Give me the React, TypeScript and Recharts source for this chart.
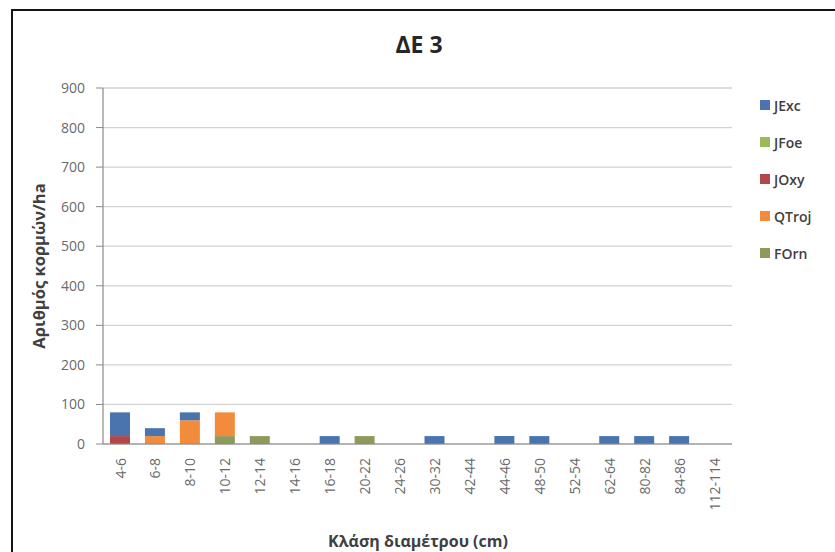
import React from 'react';
import { BarChart, Bar, XAxis, YAxis, CartesianGrid } from 'recharts';

const categories = ['4-6', '6-8', '8-10', '10-12', '12-14', '14-16', '16-18', '20-22', '24-26', '30-32', '42-44', '44-46', '48-50', '52-54', '62-64', '80-82', '84-86', '112-114'];
const jExc = [60, 20, 20, 0, 0, 0, 20, 0, 0, 20, 0, 20, 20, 0, 20, 20, 20, 0];
const jFoe = [0, 0, 0, 0, 0, 0, 0, 0, 0, 0, 0, 0, 0, 0, 0, 0, 0, 0];
const jOxy = [20, 0, 0, 0, 0, 0, 0, 0, 0, 0, 0, 0, 0, 0, 0, 0, 0, 0];
const qTroj = [0, 20, 60, 60, 0, 0, 0, 0, 0, 0, 0, 0, 0, 0, 0, 0, 0, 0];
const fOrn = [0, 0, 0, 20, 20, 0, 0, 20, 0, 0, 0, 0, 0, 0, 0, 0, 0, 0];
const yTicks = [0, 100, 200, 300, 400, 500, 600, 700, 800, 900];

const seriesNames = ['JExc', 'JFoe', 'JOxy', 'QTroj', 'FOrn'];
const seriesColors: Record<string, string> = {
  JExc: '#4A74AE',
  JFoe: '#9BBB59',
  JOxy: '#B5474B',
  QTroj: '#F28B3C',
  FOrn: '#8E9A5C',
};

const data = categories.map((c, i) => ({
  cat: c,
  JExc: jExc[i],
  JFoe: jFoe[i],
  JOxy: jOxy[i],
  QTroj: qTroj[i],
  FOrn: fOrn[i],
}));

const FONT = '"Open Sans", "DejaVu Sans", sans-serif';

const XTick = (props: any) => {
  const { x, y, payload } = props;
  return (
    <g transform={`translate(${x},${y + 6})`}>
      <text x={0} y={0} dy="0.36em" textAnchor="end" transform="rotate(-90)" fill="#6a6a6a" fontSize={14} fontFamily={FONT}>
        {payload.value}
      </text>
    </g>
  );
};

const YLabel = () => (
  <text x={38} y={266} transform="rotate(-90, 38, 266)" textAnchor="middle" dominantBaseline="central" fontSize={16.5} fontWeight="bold" fill="#404040" fontFamily={FONT}>
    Αριθμός κορμών/ha
  </text>
);

const XLabel = () => (
  <text x={418} y={541} textAnchor="middle" dominantBaseline="central" fontSize={16} fontWeight="bold" fill="#404040" fontFamily={FONT}>
    Κλάση διαμέτρου (cm)
  </text>
);

export default function App() {
  const stackOrder = ['FOrn', 'QTroj', 'JOxy', 'JFoe', 'JExc'];
  return (
    <div style={{ position: 'absolute', left: 0, top: 0, width: 835, height: 552, background: '#fff', overflow: 'hidden' }}>
      <div style={{ position: 'absolute', left: 11, top: 9, width: 850, height: 560, border: '2px solid #151515', boxSizing: 'border-box' }} />
      <div style={{ position: 'absolute', left: 0, top: 31, width: 838, textAlign: 'center', fontFamily: FONT, fontWeight: 'bold', fontSize: 23, lineHeight: '26px', color: '#262626' }}>
        ΔΕ 3
      </div>
      <div style={{ position: 'absolute', left: 0, top: 0 }}>
        <BarChart width={835} height={552} data={data} margin={{ top: 88, right: 103, bottom: 38, left: 0 }} barSize={20}>
          <CartesianGrid vertical={false} stroke="#d2d2d2" strokeWidth={1.3} />
          <XAxis
            dataKey="cat"
            interval={0}
            height={70}
            tickLine={false}
            tick={<XTick />}
            axisLine={{ stroke: '#8a8a8a', strokeWidth: 1.2 }}
            label={<XLabel />}
          />
          <YAxis
            width={103}
            domain={[0, 900]}
            ticks={yTicks}
            interval={0}
            tickSize={7}
            tickMargin={11}
            tickLine={{ stroke: '#8a8a8a' }}
            axisLine={{ stroke: '#8a8a8a', strokeWidth: 1.2 }}
            tick={{ fill: '#6a6a6a', fontSize: 14, fontFamily: FONT }}
            label={<YLabel />}
          />
          {stackOrder.map((s) => (
            <Bar key={s} dataKey={s} stackId="a" fill={seriesColors[s]} isAnimationActive={false} />
          ))}
        </BarChart>
      </div>
      {seriesNames.map((s, i) => (
        <div key={s} style={{ position: 'absolute', left: 760, top: 97 + i * 37, height: 16, display: 'flex', alignItems: 'center', fontFamily: FONT, fontSize: 14, fontWeight: 600, color: '#404040' }}>
          <span style={{ display: 'inline-block', width: 10, height: 10, background: seriesColors[s], marginRight: 4 }} />
          {s}
        </div>
      ))}
    </div>
  );
}
